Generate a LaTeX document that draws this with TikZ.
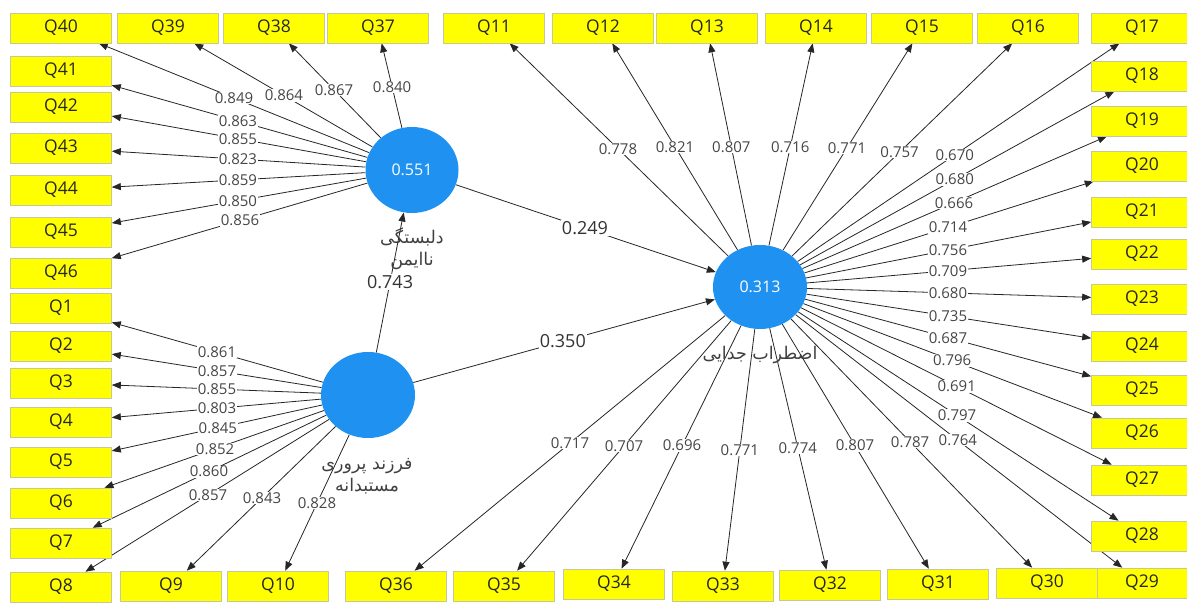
\documentclass[tikz,border=0pt]{standalone}
\usepackage{fontspec}
\setmainfont{Open Sans}
\newfontfamily\fafont[Script=Arabic]{DejaVu Sans}
\TeXXeTstate=1
\usetikzlibrary{arrows.meta,shapes.geometric,calc}
\definecolor{lvblue}{RGB}{31,145,240}
\definecolor{qyellow}{RGB}{255,255,0}
\definecolor{qedge}{RGB}{200,200,150}
\definecolor{valgray}{RGB}{70,70,70}
\pgfdeclarelayer{bg}
\pgfsetlayers{bg,main}
\tikzset{
  qb/.style={rectangle,fill=qyellow,draw=qedge,line width=0.6pt,minimum width=101pt,minimum height=30pt,inner sep=0pt,text=black!85,font=\fontsize{17.5}{19}\selectfont},
  lv/.style={ellipse,fill=lvblue,draw=none,minimum width=93pt,minimum height=86pt,inner sep=0pt,text=white,font=\fontsize{16}{18}\selectfont},
  lnk/.style={line width=0.8pt,draw=black!85,-{Triangle[length=9pt,width=7pt]}},
  val/.style={fill=white,inner sep=0.6pt,text=valgray,font=\fontsize{15}{16}\selectfont},
  pval/.style={fill=white,inner sep=1pt,text=black!80,font=\fontsize{18}{20}\selectfont},
  fa/.style={text=black!75,font=\fafont\fontsize{17.5}{22}\selectfont,align=center,inner sep=0pt}
}
\newcommand\lk[4]{%
  \begin{pgfonlayer}{bg}\draw[lnk] (#1) -- (#2);\end{pgfonlayer}%
  \node[val] at ($(#1.center)!#3!(#2.center)$) {#4};}
\newcommand\pk[4]{%
  \begin{pgfonlayer}{bg}\draw[lnk] (#1) -- (#2);\end{pgfonlayer}%
  \node[pval] at ($(#1.center)!#3!(#2.center)$) {#4};}
\begin{document}
\begin{tikzpicture}[x=1pt,y=-1pt]
\begin{pgfonlayer}{bg}
\fill[white] (0,0) rectangle (1187,604);
\end{pgfonlayer}
\useasboundingbox (0,0) rectangle (1187,604);
% latent variables
\node[lv] (dlb) at (412,170) {0.551};
\node[lv,minimum width=94pt,minimum height=84pt] (ezt) at (760,287) {0.313};
\node[lv,minimum width=94pt] (frz) at (368,395) {};
% top row
\node[qb] (q40) at (61,28) {Q40};
\node[qb] (q39) at (168,28) {Q39};
\node[qb] (q38) at (274,28) {Q38};
\node[qb] (q37) at (378,28) {Q37};
\node[qb] (q11) at (494,28) {Q11};
\node[qb] (q12) at (603,28) {Q12};
\node[qb] (q13) at (707,28) {Q13};
\node[qb] (q14) at (816,28) {Q14};
\node[qb] (q15) at (922,28) {Q15};
\node[qb] (q16) at (1028,28) {Q16};
\node[qb] (q17) at (1142,28) {Q17};
% right column
\node[qb] (q18) at (1142,76) {Q18};
\node[qb] (q19) at (1142,121) {Q19};
\node[qb] (q20) at (1142,166) {Q20};
\node[qb] (q21) at (1142,212) {Q21};
\node[qb] (q22) at (1142,254) {Q22};
\node[qb] (q23) at (1142,299) {Q23};
\node[qb] (q24) at (1142,346) {Q24};
\node[qb] (q25) at (1142,390) {Q25};
\node[qb] (q26) at (1142,433) {Q26};
\node[qb] (q27) at (1142,480) {Q27};
\node[qb] (q28) at (1142,536) {Q28};
\node[qb] (q29) at (1142,583) {Q29};
% bottom row
\node[qb] (q30) at (1047,583) {Q30};
\node[qb] (q31) at (938,584) {Q31};
\node[qb] (q32) at (830,585) {Q32};
\node[qb] (q33) at (723,586) {Q33};
\node[qb] (q34) at (614,584) {Q34};
\node[qb] (q35) at (504,586) {Q35};
\node[qb] (q36) at (396,586) {Q36};
\node[qb] (q10) at (278,586) {Q10};
\node[qb] (q9) at (171,586) {Q9};
\node[qb] (q8) at (61,587) {Q8};
% left column
\node[qb] (q41) at (61,71) {Q41};
\node[qb] (q42) at (61,107) {Q42};
\node[qb] (q43) at (61,148) {Q43};
\node[qb] (q44) at (61,190) {Q44};
\node[qb] (q45) at (61,232) {Q45};
\node[qb] (q46) at (61,273) {Q46};
\node[qb] (q1) at (61,308) {Q1};
\node[qb] (q2) at (61,346) {Q2};
\node[qb] (q3) at (61,383) {Q3};
\node[qb] (q4) at (61,422) {Q4};
\node[qb] (q5) at (61,462) {Q5};
\node[qb] (q6) at (61,503) {Q6};
\node[qb] (q7) at (61,543) {Q7};
% loadings of dlb
\lk{dlb}{q37}{0.585}{0.840}
\lk{dlb}{q38}{0.565}{0.867}
\lk{dlb}{q39}{0.525}{0.864}
\lk{dlb}{q40}{0.507}{0.849}
\lk{dlb}{q41}{0.496}{0.863}
\lk{dlb}{q42}{0.496}{0.855}
\lk{dlb}{q43}{0.496}{0.823}
\lk{dlb}{q44}{0.496}{0.859}
\lk{dlb}{q45}{0.496}{0.850}
\lk{dlb}{q46}{0.49}{0.856}
% loadings of frz
\lk{frz}{q1}{0.492}{0.861}
\lk{frz}{q2}{0.492}{0.857}
\lk{frz}{q3}{0.492}{0.855}
\lk{frz}{q4}{0.492}{0.803}
\lk{frz}{q5}{0.489}{0.845}
\lk{frz}{q6}{0.498}{0.852}
\lk{frz}{q7}{0.518}{0.860}
\lk{frz}{q8}{0.521}{0.857}
\lk{frz}{q9}{0.538}{0.843}
\lk{frz}{q10}{0.567}{0.828}
% loadings of ezt
\lk{ezt}{q11}{0.534}{0.778}
\lk{ezt}{q12}{0.541}{0.821}
\lk{ezt}{q13}{0.54}{0.807}
\lk{ezt}{q14}{0.54}{0.716}
\lk{ezt}{q15}{0.537}{0.771}
\lk{ezt}{q16}{0.521}{0.757}
\lk{ezt}{q17}{0.51}{0.670}
\lk{ezt}{q18}{0.51}{0.680}
\lk{ezt}{q19}{0.508}{0.666}
\lk{ezt}{q20}{0.492}{0.714}
\lk{ezt}{q21}{0.492}{0.756}
\lk{ezt}{q22}{0.492}{0.709}
\lk{ezt}{q23}{0.492}{0.680}
\lk{ezt}{q24}{0.492}{0.735}
\lk{ezt}{q25}{0.492}{0.687}
\lk{ezt}{q26}{0.503}{0.796}
\lk{ezt}{q27}{0.515}{0.691}
\lk{ezt}{q28}{0.516}{0.797}
\lk{ezt}{q29}{0.518}{0.764}
\lk{ezt}{q30}{0.523}{0.787}
\lk{ezt}{q31}{0.534}{0.807}
\lk{ezt}{q32}{0.54}{0.774}
\lk{ezt}{q33}{0.545}{0.771}
\lk{ezt}{q34}{0.534}{0.696}
\lk{ezt}{q35}{0.531}{0.707}
\lk{ezt}{q36}{0.522}{0.717}
% structural paths
\pk{frz}{dlb}{0.502}{0.743}
\pk{dlb}{ezt}{0.497}{0.249}
\pk{frz}{ezt}{0.497}{0.350}
% construct names
\node[fa] (ndlb) at (412,249) {\beginR دلبستگی\endR\\\beginR ناایمن\endR};
\node[fa] (nfrz) at (367,476) {\beginR فرزند پروری\endR\\\beginR مستبدانه\endR};
\node[fa] (nezt) at (760,355) {\beginR اضطراب جدایی\endR};
\end{tikzpicture}
\end{document}
